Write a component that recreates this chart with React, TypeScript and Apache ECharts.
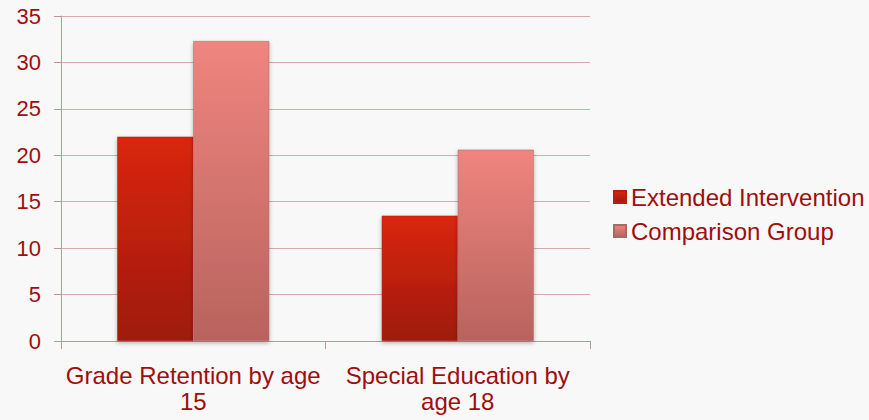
import React, { useEffect, useRef } from "react";
import * as echarts from "echarts";

const categories = ["Grade Retention by age\n15", "Special Education by\nage 18"];
const extendedValues = [22, 13.5];
const comparisonValues = [32.3, 20.6];
const seriesNames = ["Extended Intervention", "Comparison Group"];

const TEXT = "#a00d0d";
const FONT = "'Liberation Sans', Arial, sans-serif";

export default function App() {
  const ref = useRef<HTMLDivElement>(null);
  useEffect(() => {
    if (!ref.current) return;
    const chart = echarts.init(ref.current, undefined, { renderer: "svg" });
    const grad = (a: string, b: string) =>
      new echarts.graphic.LinearGradient(0, 0, 0, 1, [
        { offset: 0, color: a },
        { offset: 1, color: b },
      ]);
    chart.setOption({
      animation: false,
      backgroundColor: "#f8f8f8",
      textStyle: { fontFamily: FONT },
      grid: { left: 61, right: 279, top: 16, bottom: 79, containLabel: false },
      legend: {
        orient: "vertical",
        left: 608,
        top: 180,
        itemWidth: 12,
        itemHeight: 12,
        itemGap: 10,
        icon: "rect",
        textStyle: { color: TEXT, fontSize: 24, fontFamily: FONT, padding: [0, 0, 0, 0] },
        data: seriesNames,
      },
      xAxis: {
        type: "category",
        data: categories,
        axisLine: { lineStyle: { color: "#c09494", width: 1 } },
        axisTick: { show: true, length: 8, lineStyle: { color: "#c09494" } },
        axisLabel: {
          color: TEXT,
          fontSize: 24,
          fontFamily: FONT,
          lineHeight: 26,
          margin: 21,
          interval: 0,
        },
      },
      yAxis: {
        type: "value",
        min: 0,
        max: 35,
        interval: 5,
        axisLine: { show: true, lineStyle: { color: "#c09494" } },
        axisTick: { show: true, length: 7, lineStyle: { color: "#c09494" } },
        axisLabel: { color: TEXT, fontSize: 22, fontFamily: FONT, margin: 20 },
        splitLine: { lineStyle: { color: "#d8a8aa", width: 1 } },
      },
      series: [
        {
          name: seriesNames[0],
          type: "bar",
          data: extendedValues,
          barWidth: 76,
          barGap: "0%",
          itemStyle: {
            color: grad("#d9260c", "#9e1a0c"),
            borderColor: "#b52010",
            borderWidth: 0.5,
            shadowColor: "rgba(0,0,0,0.3)",
            shadowBlur: 4,
            shadowOffsetY: 2,
          },
        },
        {
          name: seriesNames[1],
          type: "bar",
          data: comparisonValues,
          barWidth: 76,
          barGap: "0%",
          itemStyle: {
            color: grad("#ef857e", "#b8635e"),
            borderColor: "#a86a66",
            borderWidth: 0.5,
            shadowColor: "rgba(0,0,0,0.3)",
            shadowBlur: 4,
            shadowOffsetY: 2,
          },
        },
      ],
    });
    return () => chart.dispose();
  }, []);
  return <div ref={ref} style={{ width: 869, height: 420, position: "absolute", left: 0, top: 0 }} />;
}
